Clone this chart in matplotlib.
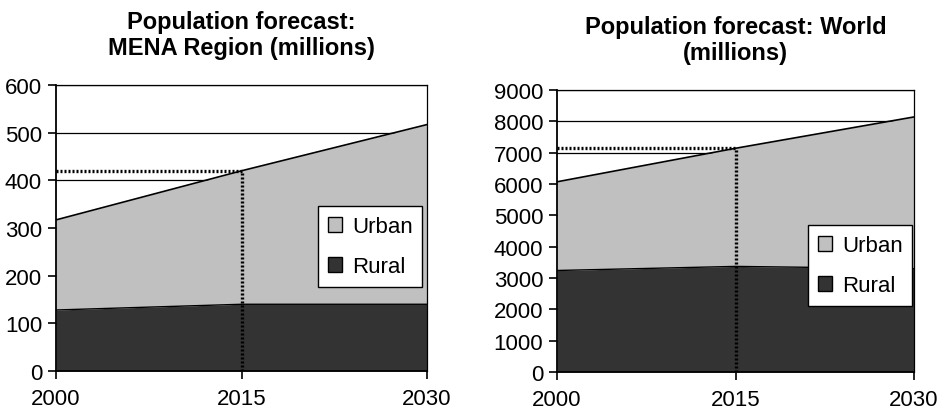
import matplotlib
matplotlib.use("Agg")
from matplotlib import pyplot as plt
from matplotlib.patches import Patch

plt.rcParams['font.family'] = ['Liberation Sans', 'DejaVu Sans']

years = [2000, 2015, 2030]

# MENA region, millions
mena_rural = [128, 140, 140]
mena_urban = [189, 280, 377]

# World, millions
world_rural = [3240, 3370, 3300]
world_urban = [2830, 3770, 4840]

urban_color = '#c0c0c0'
rural_color = '#333333'


def drawPanel(ax, rural, urban, ymax, ystep, title, legend_box):
    total = [r + u for r, u in zip(rural, urban)]
    for y in range(0, ymax + 1, ystep):
        ax.axhline(y, color='black', lw=0.9, zorder=0)
    ax.fill_between(years, 0, rural, color=rural_color, zorder=1, lw=0)
    ax.fill_between(years, rural, total, color=urban_color, zorder=1, lw=0)
    ax.plot(years, rural, color='black', lw=1.0, zorder=2)
    ax.plot(years, total, color='black', lw=1.2, zorder=2)
    # marker lines at 2015
    t15 = total[1]
    ax.plot([years[0], years[1]], [t15, t15], color='black', ls=(0, (0.6, 0.6)), lw=2.4, zorder=3)
    ax.plot([years[1], years[1]], [0, t15], color='black', ls=(0, (0.6, 0.6)), lw=2.4, zorder=3)

    ax.set_xlim(years[0], years[-1])
    ax.set_ylim(0, ymax)
    ax.set_xticks(years)
    ax.set_yticks(range(0, ymax + 1, ystep))
    ax.tick_params(axis='y', labelsize=16, length=6, width=1.2, direction='out', pad=4)
    ax.tick_params(axis='x', labelsize=16, length=6, width=1.2, direction='out', pad=6)
    for s in ['left', 'bottom']:
        ax.spines[s].set_linewidth(1.3)
    for s in ['top', 'right']:
        ax.spines[s].set_linewidth(0.9)
    ax.set_title(title, fontsize=17, fontweight='bold', pad=22, linespacing=1.2)

    handles = [Patch(facecolor=urban_color, edgecolor='black', lw=1, label='Urban'),
               Patch(facecolor=rural_color, edgecolor='black', lw=1, label='Rural')]
    leg = ax.legend(handles=handles, loc='lower left', bbox_to_anchor=legend_box,
                    fontsize=16, frameon=True, fancybox=False, borderaxespad=0,
                    framealpha=1, facecolor='white',
                    handlelength=0.65, handleheight=0.65, handletextpad=0.45,
                    labelspacing=0.85, borderpad=0.45, mode='expand')
    leg.get_frame().set_edgecolor('black')
    leg.get_frame().set_linewidth(1.0)
    leg.set_zorder(5)


fig = plt.figure(figsize=(9.46, 4.10), dpi=100)
ax1 = fig.add_axes([56 / 946, 38 / 410, 371 / 946, 286 / 410])
ax2 = fig.add_axes([557 / 946, 37 / 410, 357 / 946, 282 / 410])

drawPanel(ax1, mena_rural, mena_urban, 600, 100,
          'Population forecast:\nMENA Region (millions)',
          ((318 - 56) / 371, (372 - 288) / 286, 104 / 371, 82 / 286))
drawPanel(ax2, world_rural, world_urban, 9000, 1000,
          'Population forecast: World\n(millions)',
          ((808 - 557) / 357, (373 - 307) / 282, 104 / 357, 82 / 282))

fig.savefig('out.png', dpi=100)
